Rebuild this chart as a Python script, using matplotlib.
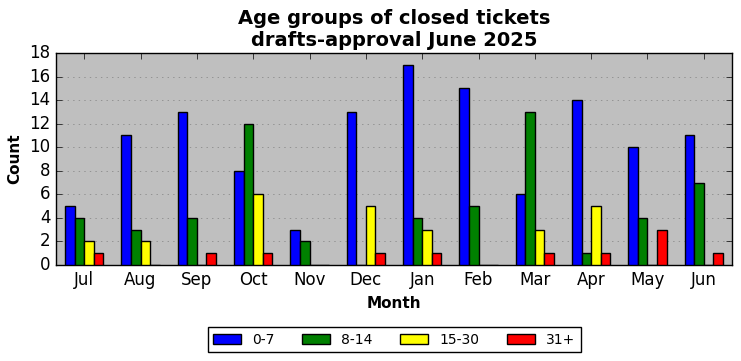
import matplotlib
matplotlib.use("Agg")
import matplotlib.pyplot as plt
import numpy as np

months = ["Jul", "Aug", "Sep", "Oct", "Nov", "Dec", "Jan", "Feb", "Mar", "Apr", "May", "Jun"]
age_0_7 = [5, 11, 13, 8, 3, 13, 17, 15, 6, 14, 10, 11]
age_8_14 = [4, 3, 4, 12, 2, 0, 4, 5, 13, 1, 4, 7]
age_15_30 = [2, 2, 0, 6, 0, 5, 3, 0, 3, 5, 0, 0]
age_31 = [1, 0, 1, 1, 0, 1, 1, 0, 1, 1, 3, 1]

series = [("0-7", age_0_7, "blue"), ("8-14", age_8_14, "green"),
          ("15-30", age_15_30, "yellow"), ("31+", age_31, "red")]

plt.style.use("classic")
fig = plt.figure(figsize=(7.41, 3.61), dpi=100)
ax = fig.add_axes([56 / 741, 1 - 265 / 361, (732 - 56) / 741, (265 - 53) / 361])
ax.set_facecolor("#bfbfbf")

x = np.arange(len(months))
w = 0.17
for i, (name, vals, col) in enumerate(series):
    ax.bar(x + (i - 1.5) * w, vals, w, color=col, edgecolor="black", linewidth=1,
           label=name, zorder=3)

ax.set_xticks(x)
ax.set_xticklabels(months, fontsize=12)
ax.set_xlim(-0.5, 11.5)
ax.set_ylim(0, 18)
ax.set_yticks(range(0, 19, 2))
ax.tick_params(labelsize=12)
ax.yaxis.grid(True, linestyle=":", color="gray", zorder=0)
ax.set_axisbelow(True)

ax.set_xlabel("Month", fontsize=11, fontweight="bold")
ax.set_ylabel("Count", fontsize=11, fontweight="bold")
ax.set_title("Age groups of closed tickets\ndrafts-approval June 2025",
             fontsize=14, fontweight="bold")

ax.legend(loc="upper center", bbox_to_anchor=(0.5, -0.26), ncol=4, fontsize=10,
          fancybox=False, frameon=True, handlelength=2, columnspacing=2)

fig.savefig("out.png", dpi=100)
